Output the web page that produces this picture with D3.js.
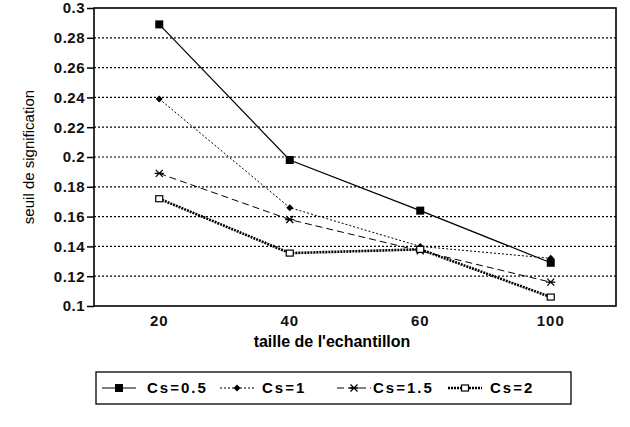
<!DOCTYPE html>
<html>
<head>
<meta charset="utf-8">
<script src="https://cdn.jsdelivr.net/npm/d3@7"></script>
<style>
  body { margin: 0; background: #fff; }
  text { font-family: "Liberation Sans", Arial, sans-serif; }
</style>
</head>
<body>
<svg id="chart" width="630" height="427"></svg>
<script>
var categories = ["20", "40", "60", "100"];
var yTicks = [0.1, 0.12, 0.14, 0.16, 0.18, 0.2, 0.22, 0.24, 0.26, 0.28, 0.3];
var seriesNames = ["Cs=0.5", "Cs=1", "Cs=1.5", "Cs=2"];
var cs05 = [0.289, 0.198, 0.164, 0.129];
var cs1 = [0.239, 0.166, 0.14, 0.132];
var cs15 = [0.189, 0.158, 0.137, 0.116];
var cs2 = [0.172, 0.1355, 0.138, 0.106];

var series = [
  { name: seriesNames[0], values: cs05, dash: null, width: 1.2, marker: "fsquare" },
  { name: seriesNames[1], values: cs1, dash: "2,2", width: 1, marker: "diamond" },
  { name: seriesNames[2], values: cs15, dash: "7,4", width: 1, marker: "star" },
  { name: seriesNames[3], values: cs2, dash: "2,1", width: 2.6, marker: "osquare" }
];

var svg = d3.select("#chart");
var plotL = 94, plotR = 616, plotT = 8, plotB = 306;

var x = d3.scaleBand().domain(categories).range([plotL, plotR]);
var y = d3.scaleLinear().domain([0.1, 0.3]).range([plotB, plotT]);

// grid
svg.append("g")
  .selectAll("line")
  .data(yTicks.slice(1, -1))
  .join("line")
  .attr("x1", plotL).attr("x2", plotR)
  .attr("y1", function(d) { return y(d); })
  .attr("y2", function(d) { return y(d); })
  .attr("stroke", "#000")
  .attr("stroke-width", 1.2)
  .attr("stroke-dasharray", "2,2");

// y axis
var yAxis = d3.axisLeft(y).tickValues(yTicks).tickSize(7).tickPadding(2).tickFormat(function(d) { return String(+d.toFixed(2)); });
var gy = svg.append("g").attr("transform", "translate(" + plotL + ",0)").call(yAxis);
gy.select(".domain").remove();
gy.selectAll("line").attr("stroke", "#000").attr("stroke-width", 1.5);
gy.selectAll("text").style("font-size", "15px").style("font-weight", "bold").style("letter-spacing", "0.5px").attr("fill", "#111");

// x axis
var xAxis = d3.axisBottom(x).tickSize(0).tickPadding(9);
var gx = svg.append("g").attr("transform", "translate(0," + plotB + ")").call(xAxis);
gx.select(".domain").remove();
gx.selectAll("text").style("font-size", "15px").style("font-weight", "bold").style("letter-spacing", "1px").attr("fill", "#111");

// frame
svg.append("rect")
  .attr("x", plotL).attr("y", plotT)
  .attr("width", plotR - plotL).attr("height", plotB - plotT)
  .attr("fill", "none").attr("stroke", "#000").attr("stroke-width", 1.6);

// axis titles
svg.append("text")
  .attr("x", (plotL + plotR) / 2 - 23).attr("y", 347)
  .attr("text-anchor", "middle").style("font-size", "16px").style("font-weight", "bold")
  .text("taille de l'echantillon");

svg.append("text")
  .attr("transform", "translate(34," + (plotT + plotB) / 2 + ") rotate(-90)")
  .attr("text-anchor", "middle").style("font-size", "15px")
  .text("seuil de signification");

function drawMarker(g, type, cx, cy) {
  if (type === "fsquare") {
    g.append("rect").attr("x", cx - 4).attr("y", cy - 4).attr("width", 8).attr("height", 8).attr("fill", "#000");
  } else if (type === "osquare") {
    g.append("rect").attr("x", cx - 3.5).attr("y", cy - 3).attr("width", 7).attr("height", 6)
      .attr("fill", "#fff").attr("stroke", "#000").attr("stroke-width", 1.2);
  } else if (type === "diamond") {
    g.append("path").attr("d", "M" + cx + "," + (cy - 3.5) + "L" + (cx + 3.5) + "," + cy + "L" + cx + "," + (cy + 3.5) + "L" + (cx - 3.5) + "," + cy + "Z")
      .attr("fill", "#000");
  } else if (type === "star") {
    var s = 3.5;
    g.append("path")
      .attr("d", "M" + (cx - s) + "," + (cy - s) + "L" + (cx + s) + "," + (cy + s) +
        "M" + (cx - s) + "," + (cy + s) + "L" + (cx + s) + "," + (cy - s) +
        "M" + (cx - s - 1) + "," + cy + "L" + (cx + s + 1) + "," + cy)
      .attr("stroke", "#000").attr("stroke-width", 1.3);
  }
}

var line = d3.line()
  .x(function(d, i) { return x(categories[i]) + x.bandwidth() / 2; })
  .y(function(d) { return y(d); });

series.forEach(function(s) {
  svg.append("path")
    .attr("d", line(s.values))
    .attr("fill", "none")
    .attr("stroke", "#000")
    .attr("stroke-width", s.width)
    .attr("stroke-dasharray", s.dash);
  var g = svg.append("g");
  s.values.forEach(function(v, i) {
    drawMarker(g, s.marker, x(categories[i]) + x.bandwidth() / 2, y(v));
  });
});

// legend
var legend = svg.append("g");
legend.append("rect")
  .attr("x", 96).attr("y", 372).attr("width", 475).attr("height", 32)
  .attr("fill", "#fff").attr("stroke", "#000").attr("stroke-width", 1.3);

var legendX = [102, 220, 337, 448];
var legendTextX = [147, 262, 373, 490];
series.forEach(function(s, i) {
  var lx = legendX[i], ly = 388;
  legend.append("line")
    .attr("x1", lx).attr("x2", lx + 34).attr("y1", ly).attr("y2", ly)
    .attr("stroke", "#000").attr("stroke-width", s.width)
    .attr("stroke-dasharray", s.dash);
  drawMarker(legend, s.marker, lx + 17, ly);
  legend.append("text")
    .attr("x", legendTextX[i]).attr("y", ly + 5)
    .style("font-size", "15px").style("font-weight", "bold").style("letter-spacing", "2px")
    .text(s.name);
});
</script>
</body>
</html>
